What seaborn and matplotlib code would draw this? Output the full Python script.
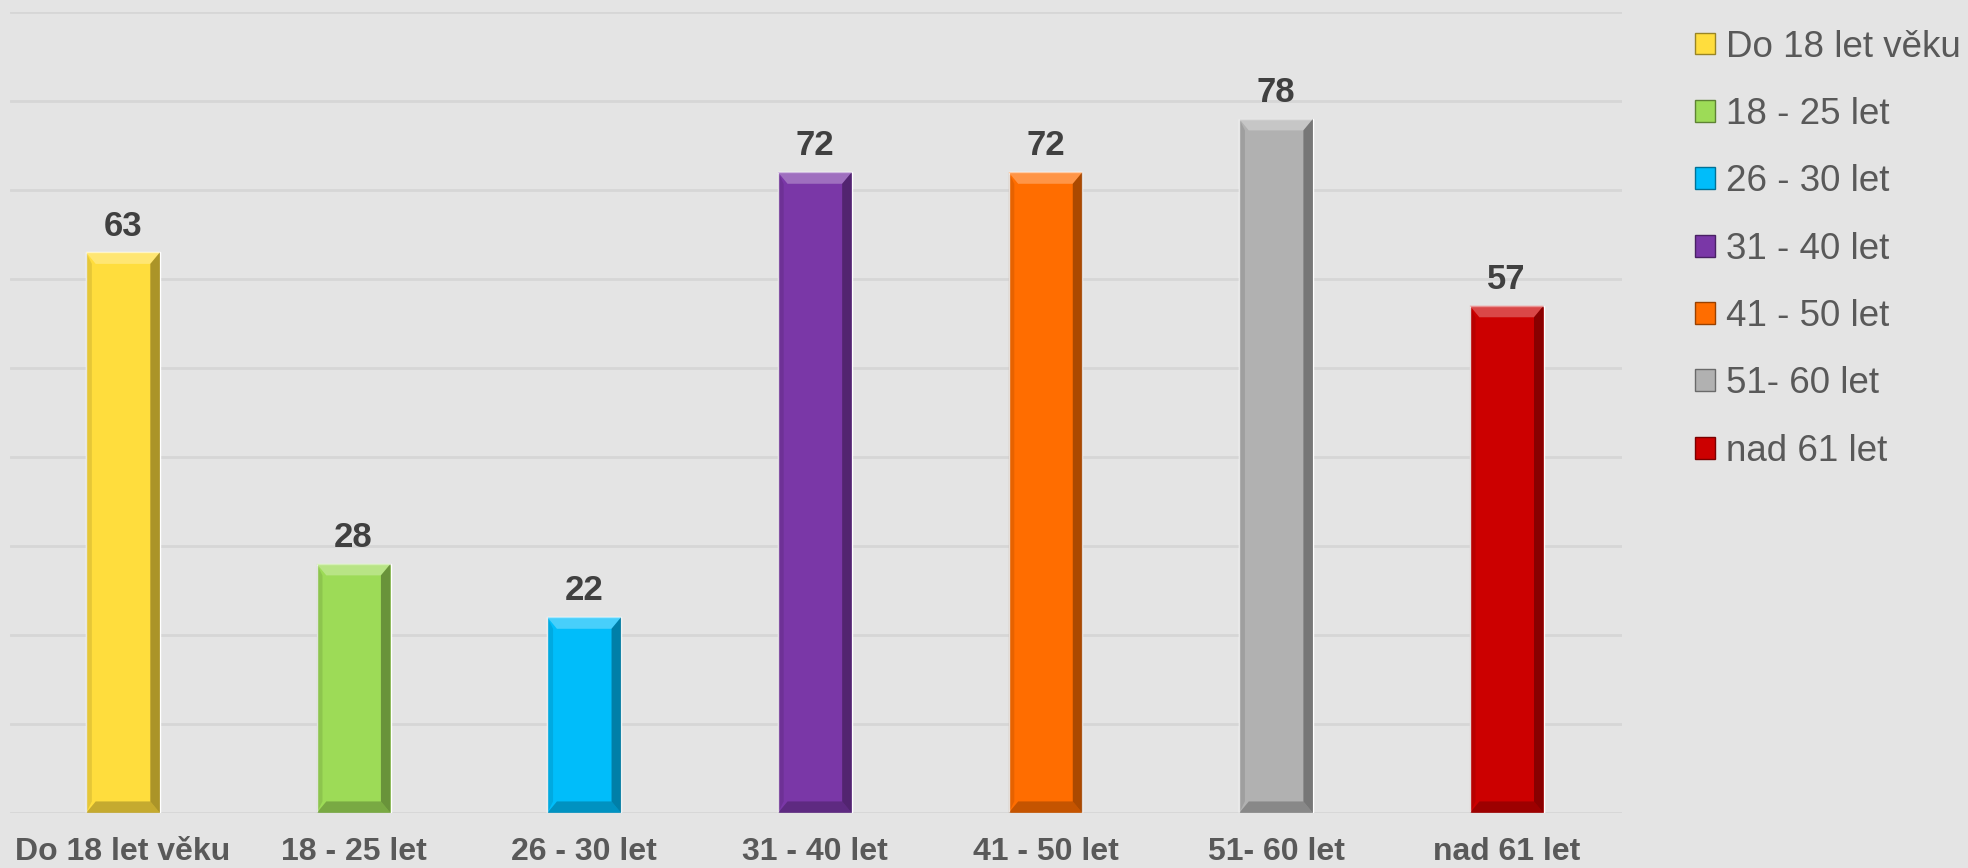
import matplotlib
matplotlib.use("Agg")
import matplotlib.pyplot as plt
from matplotlib.patches import Patch, Polygon
import seaborn as sns

# Dados do gráfico
kategorie = ["Do 18 let věku", "18 - 25 let", "26 - 30 let", "31 - 40 let",
             "41 - 50 let", "51- 60 let", "nad 61 let"]
pocty = [63, 28, 22, 72, 72, 78, 57]
barvy = ["#FFDD3D", "#9DDB57", "#00BDFA", "#7A37A7", "#FF6D00", "#B1B1B1", "#CC0000"]

BG = "#E4E4E4"

sns.set_theme(style="white")
plt.rcParams["font.family"] = ["Liberation Sans", "DejaVu Sans"]

fig = plt.figure(figsize=(19.68, 8.68), dpi=100, facecolor=BG)
ax = fig.add_axes([10 / 1968, 1 - 813 / 868, 1612 / 1968, 801 / 868])
ax.set_facecolor(BG)

sns.barplot(x=kategorie, y=pocty, hue=kategorie, palette=barvy,
            width=0.32, legend=False, ax=ax, saturation=1, zorder=3)

ax.set_xlim(-0.49, 6.5)
ax.set_ylim(0, 90)
ax.set_yticks(range(0, 91, 10))
ax.set_yticklabels([])
ax.grid(axis="y", color="#D6D6D6", linewidth=2, zorder=0)
ax.set_axisbelow(True)
for s in ax.spines.values():
    s.set_visible(False)
ax.set_xlabel("")
ax.set_ylabel("")
ax.tick_params(axis="x", length=0, pad=17, labelsize=23, labelcolor="#595959")
ax.tick_params(axis="y", length=0)
for t in ax.get_xticklabels():
    t.set_fontweight("bold")

# efeito de relevo simples nas barras
for p in list(ax.patches):
    x0, y0 = p.get_x(), p.get_y()
    w, h = p.get_width(), p.get_height()
    dx, dy = w * 0.13, 1.3
    c = p.get_facecolor()
    light = tuple(min(1, v * 0.6 + 0.4) for v in c[:3])
    dark = tuple(v * 0.35 for v in c[:3])
    ax.add_patch(Polygon([(x0, y0 + h), (x0 + w, y0 + h), (x0 + w - dx, y0 + h - dy),
                          (x0 + dx, y0 + h - dy)], closed=True, facecolor=light,
                         edgecolor="none", alpha=0.7, zorder=4))
    ax.add_patch(Polygon([(x0 + w, y0), (x0 + w, y0 + h), (x0 + w - dx, y0 + h - dy),
                          (x0 + w - dx, y0 + dy)], closed=True, facecolor=dark,
                         edgecolor="none", alpha=0.5, zorder=4))
    ax.add_patch(Polygon([(x0, y0), (x0, y0 + h), (x0 + dx * 0.6, y0 + h - dy),
                          (x0 + dx * 0.6, y0 + dy)], closed=True, facecolor=dark,
                         edgecolor="none", alpha=0.15, zorder=4))
    ax.add_patch(Polygon([(x0, y0), (x0 + w, y0), (x0 + w - dx, y0 + dy),
                          (x0 + dx, y0 + dy)], closed=True, facecolor=dark,
                         edgecolor="none", alpha=0.35, zorder=4))

for i, v in enumerate(pocty):
    ax.annotate(str(v), (i, v), xytext=(0, 7), textcoords="offset points",
                ha="center", va="bottom", fontsize=25, fontweight="bold",
                color="#404040")

handles = [Patch(facecolor=c, edgecolor=tuple(v * 0.6 for v in matplotlib.colors.to_rgb(c)),
                 linewidth=1) for c in barvy]
fig.legend(handles, kategorie, loc="upper left", bbox_to_anchor=(1695 / 1968, 0.966),
           frameon=False, fontsize=26.5, labelcolor="#595959", handlelength=0.54,
           handleheight=0.54, handletextpad=0.3, labelspacing=0.88, borderpad=0,
           borderaxespad=0)

fig.savefig("out.png", dpi=100, facecolor=BG)
